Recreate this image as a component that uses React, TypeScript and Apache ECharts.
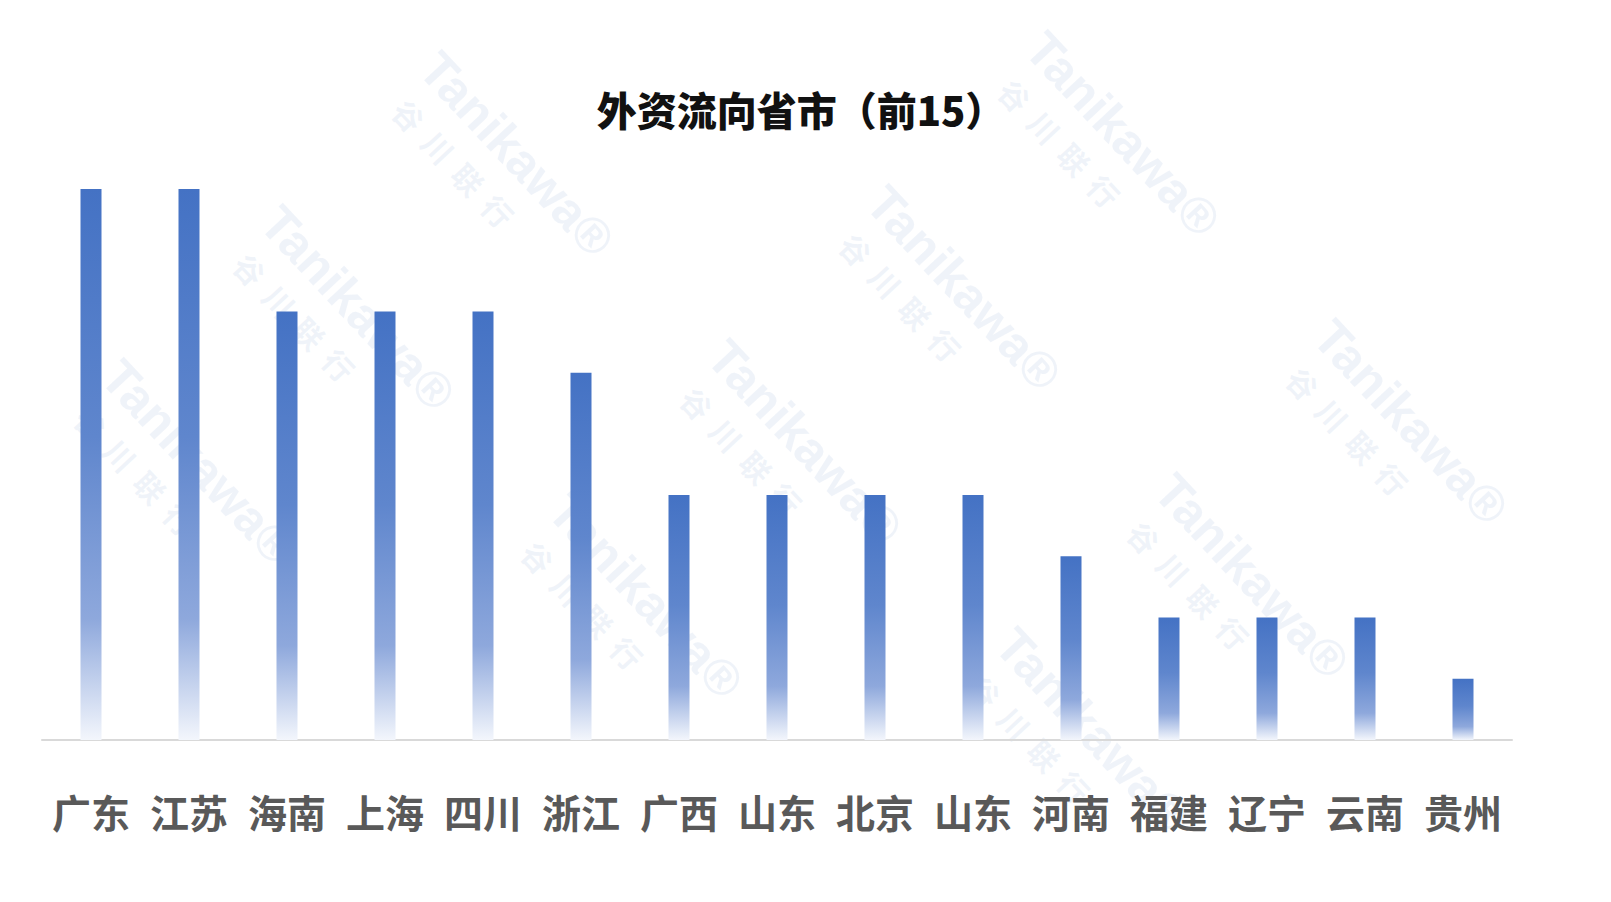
import React, { useEffect, useRef } from "react";
import * as echarts from "echarts";

const categories = ["广东", "江苏", "海南", "上海", "四川", "浙江", "广西", "山东", "北京", "山东", "河南", "福建", "辽宁", "云南", "贵州"];
const values = [9, 9, 7, 7, 7, 6, 4, 4, 4, 4, 3, 2, 2, 2, 1];
const titleText = "外资流向省市（前15）";
const watermarkLatin = "Tanikawa";
const watermarkCjk = "谷  川  联  行";

function buildWatermark() {
  const items: any[] = [];
  const ax = 447, ay = 134, bx = -159, by = 154;
  const ox = 447, oy = 43;
  const rot = (-47 * Math.PI) / 180;
  for (let i = -4; i <= 5; i++) {
    for (let j = -3; j <= 8; j++) {
      const x = ox + i * ax + j * bx;
      const y = oy + i * ay + j * by;
      if (x - 52 < 2 || x + 200 > 1608 || y - 4 < 2 || y + 262 > 900) continue;
      items.push({
        type: "group",
        x,
        y,
        rotation: rot,
        z: -10,
        silent: true,
        children: [
          {
            type: "text",
            x: 0,
            y: 0,
            style: {
              text: watermarkLatin + "®",
              fill: "rgba(214,224,240,0.38)",
              font: "bold 50px 'Liberation Sans', Arial, sans-serif",
              textVerticalAlign: "top",
            },
          },
          {
            type: "text",
            x: 12,
            y: 62,
            style: {
              text: watermarkCjk,
              fill: "rgba(214,224,240,0.38)",
              font: "bold 30px 'Noto Sans CJK SC', sans-serif",
              textVerticalAlign: "top",
            },
          },
        ],
      });
    }
  }
  return items;
}

export default function App() {
  const ref = useRef<HTMLDivElement>(null);
  useEffect(() => {
    if (!ref.current) return;
    const chart = echarts.init(ref.current, null, { renderer: "svg" });
    chart.setOption({
      animation: false,
      backgroundColor: "#ffffff",
      title: {
        text: titleText,
        left: 796,
        textAlign: "center",
        top: 84,
        textStyle: {
          fontSize: 40,
          fontWeight: 900,
          color: "#111111",
          fontFamily: "'Noto Sans CJK SC', sans-serif",
        },
      },
      graphic: buildWatermark(),
      grid: { left: 42, right: 99, top: 189, bottom: 162, containLabel: false },
      xAxis: {
        type: "category",
        data: categories,
        axisLine: { lineStyle: { color: "#d9d9d9", width: 2 } },
        axisTick: { show: false },
        axisLabel: {
          interval: 0,
          margin: 51,
          fontSize: 39,
          fontWeight: "bold",
          color: "#595959",
          fontFamily: "'Noto Sans CJK SC', sans-serif",
        },
      },
      yAxis: { type: "value", min: 0, max: 9, show: false, splitLine: { show: false } },
      series: [
        {
          type: "bar",
          data: values,
          barWidth: 21,
          z: 5,
          itemStyle: {
            color: new echarts.graphic.LinearGradient(0, 0, 0, 1, [
              { offset: 0, color: "#4472C4" },
              { offset: 0.45, color: "#5f86cd" },
              { offset: 0.78, color: "#8ea8dc" },
              { offset: 1, color: "#f3f6fc" },
            ]),
          },
        },
      ],
    });
    return () => chart.dispose();
  }, []);
  return <div ref={ref} style={{ position: "fixed", left: 0, top: 0, width: 1611, height: 902 }} />;
}
